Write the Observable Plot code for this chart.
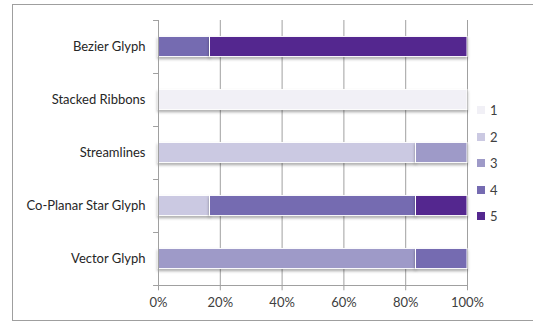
<!DOCTYPE html>
<html>
<head>
<meta charset="utf-8">
<script src="https://cdn.jsdelivr.net/npm/d3@7"></script>
<script src="https://cdn.jsdelivr.net/npm/@observablehq/plot@0.6"></script>
<style>
  html, body { margin: 0; padding: 0; background: #fff; overflow: hidden; width: 533px; height: 322px; }
  #wrap { position: relative; width: 533px; height: 322px; font-family: Lato, "Open Sans", sans-serif; }
  #frame { position: absolute; left: 12px; top: 4px; width: 600px; height: 317px; border: 1px solid #9f9f9f; box-sizing: border-box; }
  #chart { position: absolute; left: 0; top: 0; }
  #legend { position: absolute; left: 477px; top: 97px; font-size: 13px; color: #404040; }
  .sw { display: flex; align-items: center; height: 26.5px; }
  .sw i { display: inline-block; width: 8px; height: 8px; margin-right: 5px; }
  svg g[aria-label="rect"] rect { filter: drop-shadow(0px 2px 1.5px rgba(0,0,0,0.35)); }
</style>
</head>
<body>
<div id="wrap">
  <div id="frame"></div>
  <div id="chart"></div>
  <div id="legend"></div>
</div>
<script>
const categories = ["Bezier Glyph", "Stacked Ribbons", "Streamlines", "Co-Planar Star Glyph", "Vector Glyph"];
const levels = ["1", "2", "3", "4", "5"];
const colors = ["#f1f0f6", "#cbc9e2", "#9e9ac8", "#756bb1", "#54278f"];
// counts of responses (out of 6) per category
const level1 = [0, 6, 0, 0, 0];
const level2 = [0, 0, 5, 1, 0];
const level3 = [0, 0, 1, 0, 5];
const level4 = [1, 0, 0, 4, 1];
const level5 = [5, 0, 0, 1, 0];
const xTicks = [0, 20, 40, 60, 80, 100];

const series = [level1, level2, level3, level4, level5];
const data = [];
categories.forEach((c, i) => {
  const total = d3.sum(series, s => s[i]);
  let acc = 0;
  series.forEach((s, k) => {
    const v = s[i] / total * 100;
    if (v > 0) {
      data.push({cat: c, idx: i, level: levels[k], x1: acc, x2: acc + v});
    }
    acc += v;
  });
});
const bounds = d3.range(categories.length + 1);

const plot = Plot.plot({
  width: 533,
  height: 322,
  marginLeft: 158,
  marginRight: 66,
  marginTop: 20,
  marginBottom: 37,
  style: {fontFamily: "Lato, 'Open Sans', sans-serif", fontSize: "13px", color: "#404040", background: "transparent"},
  x: {domain: [0, 100], axis: null},
  y: {domain: [0, categories.length], reverse: true, axis: null},
  color: {domain: levels, range: colors},
  marks: [
    Plot.ruleX(xTicks.slice(1), {y1: 0, y2: categories.length, stroke: "#a0a0a0", strokeWidth: 1}),
    Plot.rectX(data, {y1: d => d.idx + 0.31, y2: d => d.idx + 0.69, x1: "x1", x2: "x2", fill: "level", stroke: "white", strokeWidth: 1}),
    Plot.ruleX([0], {y1: 0, y2: categories.length, stroke: "#a0a0a0"}),
    Plot.ruleY([categories.length], {x1: 0, x2: 100, stroke: "#a0a0a0"}),
    Plot.ruleY(bounds, {x1: -1.6, x2: 0, stroke: "#a0a0a0"}),
    Plot.ruleX(xTicks, {y1: categories.length, y2: categories.length + 0.1, stroke: "#a0a0a0"}),
    Plot.text(xTicks, {x: d => d, y: categories.length, dy: 17, text: d => d + "%", fill: "#404040"}),
    Plot.text(categories, {x: 0, y: (d, i) => i + 0.5, dx: -13, textAnchor: "end", fill: "#262626", style: {letterSpacing: "0.2px"}})
  ]
});
document.getElementById("chart").appendChild(plot);

const legend = document.getElementById("legend");
levels.forEach((l, k) => {
  const row = document.createElement("div");
  row.className = "sw";
  row.innerHTML = `<i style="background:${colors[k]}"></i><span>${l}</span>`;
  legend.appendChild(row);
});
</script>
</body>
</html>
